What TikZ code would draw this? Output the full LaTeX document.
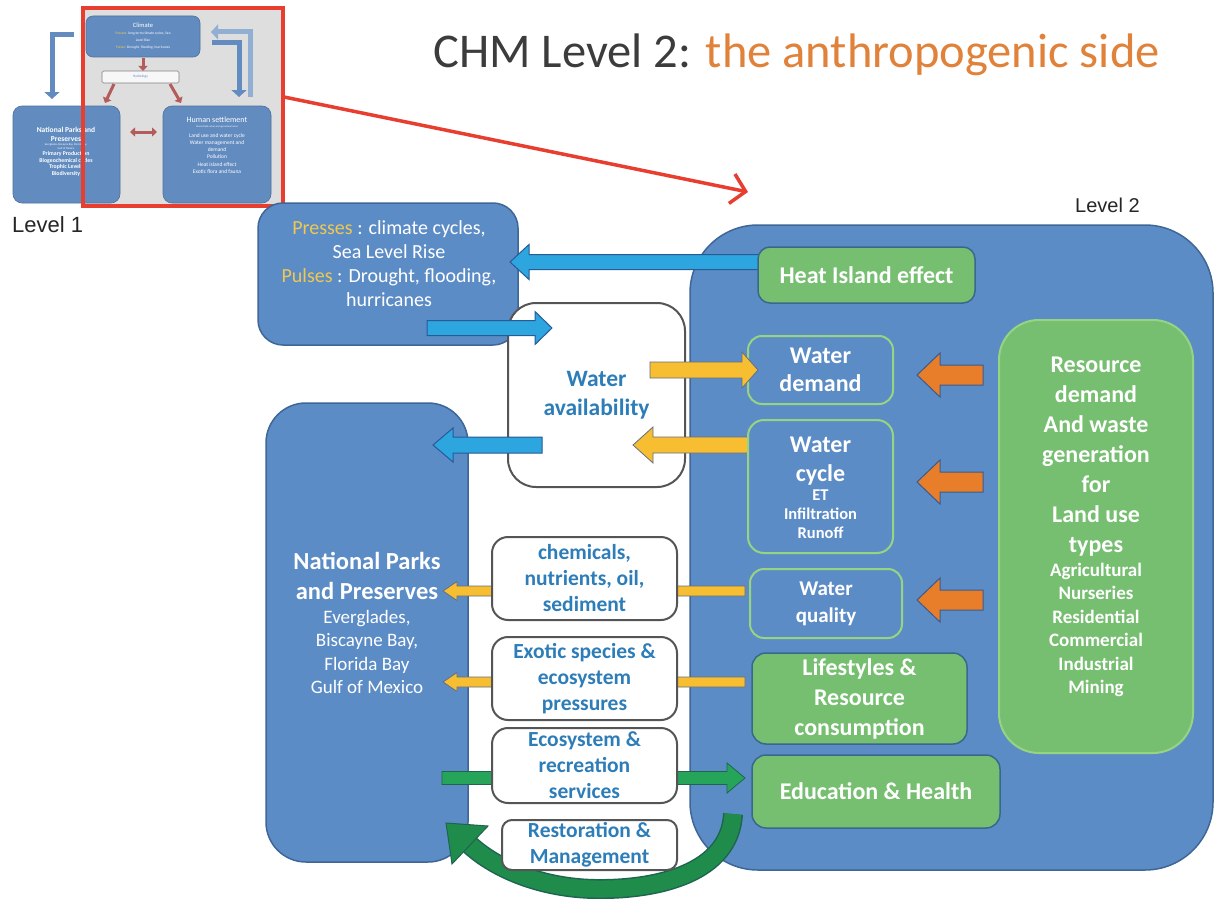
\documentclass[tikz,border=0pt]{standalone}
\usepackage{fontspec}
\setmainfont{Carlito}
\newfontfamily\arialfont{Liberation Sans}
\usetikzlibrary{arrows.meta,calc}
\definecolor{panel}{RGB}{92,140,198}
\definecolor{panelborder}{RGB}{62,102,150}
\definecolor{gfill}{RGB}{118,190,112}
\definecolor{gborder}{RGB}{58,104,140}
\definecolor{lgborder}{RGB}{150,212,130}
\definecolor{txtblue}{RGB}{45,125,185}
\definecolor{boxgray}{RGB}{85,85,85}
\definecolor{cyanA}{RGB}{45,165,222}
\definecolor{cyanB}{RGB}{40,90,150}
\definecolor{yelA}{RGB}{246,190,48}
\definecolor{yelB}{RGB}{100,110,130}
\definecolor{oraA}{RGB}{232,125,42}
\definecolor{oraB}{RGB}{60,90,140}
\definecolor{grnA}{RGB}{38,165,90}
\definecolor{grnB}{RGB}{30,100,80}
\definecolor{titleor}{RGB}{224,130,58}
\definecolor{titledk}{RGB}{60,60,60}
\definecolor{pressyel}{RGB}{240,200,80}
\definecolor{thumbgray}{RGB}{222,222,222}
\definecolor{thumbred}{RGB}{232,62,48}
\definecolor{tblue}{RGB}{98,140,192}
\definecolor{tarrow}{RGB}{180,92,92}
\newcommand\blockarr[6][]{%
 \draw[#1] let \p1=(#2), \p2=(#3), \n1={ifthenelse(\x2>\x1,1,-1)} in
  (\x1,{\y1+#4}) -- ({\x2-\n1*#6},{\y1+#4}) -- ({\x2-\n1*#6},{\y1+#5}) -- (\x2,\y1)
  -- ({\x2-\n1*#6},{\y1-#5}) -- ({\x2-\n1*#6},{\y1-#4}) -- (\x1,{\y1-#4}) -- cycle;}
\tikzset{
 panelbox/.style={draw=panelborder, fill=panel, line width=1.5pt, inner sep=0pt},
 whitebox/.style={draw=boxgray, fill=white, line width=2pt, inner sep=0pt, text=txtblue, align=center, font=\fontsize{21.5}{26}\selectfont\bfseries},
 greenbox/.style={draw=gborder, fill=gfill, line width=1.5pt, inner sep=0pt, text=white, align=center, font=\fontsize{24}{30}\selectfont\bfseries},
 bluebox/.style={draw=lgborder, fill=panel, line width=2pt, inner sep=0pt, text=white, align=center},
 cyanarr/.style={fill=cyanA, draw=cyanB, line width=1pt},
 yelarr/.style={fill=yelA, draw=yelB, line width=0.8pt},
 oraarr/.style={fill=oraA, draw=oraB, line width=1pt},
 grnarr/.style={fill=grnA, draw=grnB, line width=0.8pt},
 tbox/.style={fill=tblue, draw=tblue!80!black, line width=0.6pt, rounded corners=9pt, inner sep=0pt, text=white, align=center},
 tred/.style={draw=tarrow, line width=3pt, -{Triangle[length=5pt,width=9pt]}},
 tblarr/.style={draw=tblue, line width=5pt, -{Triangle[length=7pt,width=15pt]}},
 plain/.style={inner sep=0pt, align=center},
 para/.style={inner sep=0pt, align=flush center, text width=#1}
}
\begin{document}
\begin{tikzpicture}[x=1pt,y=-1pt]
\useasboundingbox (0,0) rectangle (1215,899);
\fill[white] (0,0) rectangle (1215,899);
% ---------- thumbnail (Level 1) ----------
\fill[thumbgray] (83,8) rectangle (283,206);
\node[tbox, minimum width=107, minimum height=97] (tpark) at (66.5,154.5) {};
\node[para=104pt, text=white] (tparktext) at (66,152) {%
 \fontsize{7.5}{9}\selectfont\bfseries National Parks and\par Preserves\par
 \fontsize{2.8}{3.6}\selectfont\mdseries Everglades, Biscayne Bay, Florida Bay,\par Gulf of Mexico\par
 \fontsize{5.8}{6.6}\selectfont\bfseries Primary Production\par Biogeochemical cycles\par Trophic Levels\par Biodiversity\par};
\node[tbox, minimum width=108, minimum height=97] (thuman) at (217,154.5) {};
\node[para=104pt, text=white] (thumantext) at (217,145) {%
 \fontsize{8}{9}\selectfont Human settlement\par
 \fontsize{2.5}{5}\selectfont Miami-Dade urban and agricultural areas\par
 \fontsize{5.5}{10}\selectfont Land use and water cycle\par
 \fontsize{5.5}{7.2}\selectfont Water management and\par demand\par Pollution\par Heat island effect\par Exotic flora and fauna\par};
\node[tbox, rounded corners=7pt, minimum width=114, minimum height=41] (tclim) at (143,36.5) {};
\node[para=110pt, text=white] (tclimtext) at (143,36) {%
 \fontsize{6.5}{7.5}\selectfont Climate\par
 \fontsize{3.6}{7.2}\selectfont\textcolor{pressyel}{Presses:} long term climate cycles, Sea\par Level Rise\par
 \textcolor{pressyel}{Pulses:} Drought, flooding, hurricanes\par};
\node[draw=gray, fill=white!94!gray, line width=0.6pt, rounded corners=1.5pt, minimum width=77, minimum height=12, inner sep=0pt, text=tblue, font=\fontsize{3.6}{4}\selectfont] (thydro) at (140.5,77) {Hydrology};
\coordinate (tc1) at (143,58); \coordinate (tc2) at (143,71);
\draw[tred] (tc1) -- (tc2);
\coordinate (th1) at (170,84); \coordinate (th2) at (181,103);
\draw[tred] (th1) -- (th2);
\coordinate (tp1) at (114,84); \coordinate (tp2) at (105,103);
\draw[tred] (tp1) -- (tp2);
\coordinate (td1) at (130,132); \coordinate (td2) at (157,132);
\draw[draw=tarrow, line width=3pt, {Triangle[length=5pt,width=9pt]}-{Triangle[length=5pt,width=9pt]}] (td1) -- (td2);
\coordinate (te1) at (74,35); \coordinate (te2) at (52,35); \coordinate (te3) at (52,99);
\draw[tblarr] (te1) -- (te2) -- (te3);
\coordinate (tf1) at (250,97); \coordinate (tf2) at (250,32); \coordinate (tf3) at (211,32);
\draw[tblarr, draw=tblue!70!white] (tf1) -- (tf2) -- (tf3);
\coordinate (tg1) at (212,43); \coordinate (tg2) at (239,43); \coordinate (tg3) at (239,97);
\draw[tblarr] (tg1) -- (tg2) -- (tg3);
\node[draw=thumbred, line width=3.2pt, minimum width=200, minimum height=198, inner sep=0pt] (thumbframe) at (183,107) {};
\coordinate (rs) at (284,97); \coordinate (rt) at (748,192);
\draw[thumbred, line width=3.5pt, -{Straight Barb[length=14pt,width=30pt]}] (rs) -- (rt);
% ---------- labels and title ----------
\node[anchor=base west, inner sep=0pt, font=\arialfont\fontsize{22}{26}\selectfont, text=black!85] (lvlone) at (12,232) {Level 1};
\node[anchor=base west, inner sep=0pt, font=\arialfont\fontsize{20}{24}\selectfont, text=black!85] (lvltwo) at (1075,212) {Level 2};
\node[anchor=base west, inner sep=0pt, font=\fontsize{48.5}{58}\selectfont] (title) at (433,67) {\textcolor{titledk}{CHM Level 2:} \textcolor{titleor}{the anthropogenic side}};
% ---------- main panels ----------
\node[panelbox, rounded corners=68pt, minimum width=523, minimum height=645] (lvl2) at (951.5,547.5) {};
\node[panelbox, rounded corners=40pt, minimum width=202, minimum height=459] (parks) at (367,632.5) {};
\node[para=198pt, text=white] (parkstext) at (367,623) {%
 \fontsize{24.5}{30}\selectfont\bfseries National Parks\par and Preserves\par
 \fontsize{19}{23.5}\selectfont\mdseries Everglades,\par Biscayne Bay,\par Florida Bay\par Gulf of Mexico\par};
\node[panelbox, rounded corners=25pt, minimum width=260, minimum height=142] (presses) at (388,274) {};
\node[plain, text=white, font=\fontsize{20}{24}\selectfont] (pressestext) at (389,264) {%
 \textcolor{pressyel}{Presses} : climate cycles,\\ Sea Level Rise\\ \textcolor{pressyel}{Pulses} : Drought, flooding,\\ hurricanes};
\node[whitebox, rounded corners=28pt, minimum width=177, minimum height=184, font=\fontsize{23.5}{29}\selectfont\bfseries] (wavail) at (596.5,395) {Water\\ availability};
\node[bluebox, rounded corners=14pt, minimum width=145, minimum height=68, font=\fontsize{24}{28}\selectfont\bfseries] (wdemand) at (820.5,370) {Water\\ demand};
% ---------- arrows under the boxes ----------
\coordinate (b1s) at (768,262); \coordinate (b1t) at (510,262);
\blockarr[cyanarr]{b1s}{b1t}{7.5pt}{17.5pt}{19pt}
\coordinate (b2s) at (427,328); \coordinate (b2t) at (552,328);
\blockarr[cyanarr]{b2s}{b2t}{7.5pt}{16.5pt}{17pt}
\coordinate (b3s) at (542,445); \coordinate (b3t) at (433,445);
\blockarr[cyanarr]{b3s}{b3t}{8pt}{17pt}{20pt}
\coordinate (y1s) at (650,370); \coordinate (y1t) at (758,370);
\blockarr[yelarr]{y1s}{y1t}{8pt}{18pt}{16pt}
\coordinate (y2s) at (749,445); \coordinate (y2t) at (633,445);
\blockarr[yelarr]{y2s}{y2t}{8pt}{18pt}{20pt}
\coordinate (y3s) at (745,591); \coordinate (y3t) at (443,591);
\blockarr[yelarr]{y3s}{y3t}{5pt}{9.5pt}{14pt}
\coordinate (y4s) at (745,682); \coordinate (y4t) at (443,682);
\blockarr[yelarr]{y4s}{y4t}{5pt}{9.5pt}{14pt}
\coordinate (g1s) at (442,778); \coordinate (g1t) at (745,778);
\blockarr[grnarr]{g1s}{g1t}{6.5pt}{15pt}{18pt}
% ---------- boxes ----------
\node[greenbox, rounded corners=12pt, minimum width=217, minimum height=56] (heat) at (866.5,275) {Heat Island effect};
\node[bluebox, rounded corners=16pt, minimum width=145, minimum height=133] (wcycle) at (820.5,486.5) {};
\node[para=140pt, text=white] (wcycletext) at (820.5,488) {%
 \fontsize{24}{29}\selectfont\bfseries Water\par cycle\par
 \fontsize{16.5}{19}\selectfont ET\par Infiltration\par Runoff\par};
\node[bluebox, rounded corners=14pt, minimum width=152, minimum height=69, font=\fontsize{21}{27}\selectfont\bfseries] (wquality) at (826,603.5) {Water\\ quality};
\node[greenbox, rounded corners=14pt, minimum width=215, minimum height=91] (life) at (859.5,698.5) {Lifestyles \&\\ Resource\\ consumption};
\node[greenbox, rounded corners=14pt, minimum width=248, minimum height=73] (edu) at (876,791.5) {Education \& Health};
\node[greenbox, draw=lgborder, line width=2pt, rounded corners=40pt, minimum width=194, minimum height=433] (resource) at (1096,536.5) {};
\node[para=190pt, text=white] (resourcetext) at (1096,527) {%
 \fontsize{24}{30}\selectfont\bfseries Resource\par demand\par And waste\par generation\par for\par Land use\par types\par
 \fontsize{19}{23.5}\selectfont Agricultural\par Nurseries\par Residential\par Commercial\par Industrial\par Mining\par};
\node[whitebox, rounded corners=16pt, minimum width=185, minimum height=83] (chem) at (584.5,578.5) {chemicals,\\ nutrients, oil,\\ sediment};
\node[whitebox, rounded corners=16pt, minimum width=185, minimum height=83] (exotic) at (584.5,678.5) {Exotic species \&\\ ecosystem\\ pressures};
\node[whitebox, rounded corners=16pt, minimum width=185, minimum height=75] (eco) at (584.5,765.5) {Ecosystem \&\\ recreation\\ services};
% ---------- curved green arrow ----------
\coordinate (cs) at (733,814); \coordinate (cb) at (470,845); \coordinate (ct) at (446,823);
\draw[draw=grnB, line width=20pt] (cs) .. controls (730,872) and (660,890) .. (595,889) .. controls (540,888) and (495,868) .. (cb);
\draw[draw=grnA!85!black, line width=17pt] (cs) .. controls (730,872) and (660,890) .. (595,889) .. controls (540,888) and (495,868) .. (cb);
\filldraw[fill=grnA!85!black, draw=grnB, line width=1pt] (488,826) -- (ct) -- (452,864) -- cycle;
\node[whitebox, rounded corners=10pt, minimum width=175, minimum height=50] (resto) at (589.5,845) {Restoration \&\\ Management};
% ---------- orange arrows ----------
\coordinate (o1s) at (983,375); \coordinate (o1t) at (917,375);
\blockarr[oraarr]{o1s}{o1t}{10pt}{22pt}{23pt}
\coordinate (o2s) at (983,482); \coordinate (o2t) at (917,482);
\blockarr[oraarr]{o2s}{o2t}{10pt}{22pt}{23pt}
\coordinate (o3s) at (983,600); \coordinate (o3t) at (917,600);
\blockarr[oraarr]{o3s}{o3t}{10pt}{22pt}{23pt}
\end{tikzpicture}
\end{document}
